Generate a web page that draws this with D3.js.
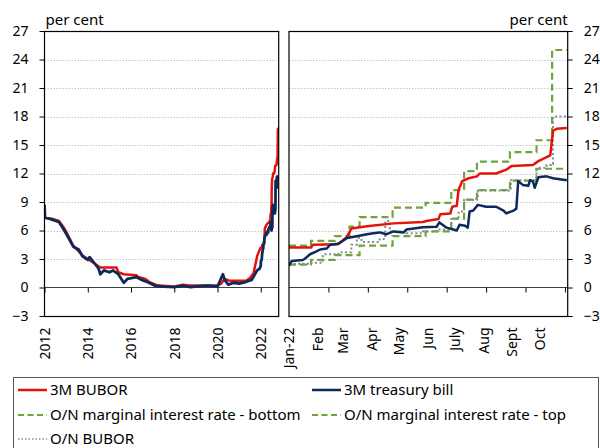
<!DOCTYPE html>
<html>
<head>
<meta charset="utf-8">
<script src="https://cdn.jsdelivr.net/npm/d3@7"></script>
<style>
  body { margin: 0; background: #fff; }
  svg { font-family: "Noto Sans", sans-serif; display: block; }
</style>
</head>
<body>
<script>
// Chart values

const parse = d3.timeParse("%Y-%m-%d");

// Long history (left panel), 2012-2021, the 2022 part comes from the daily series below
const bubor3mHist = [
  ["2012-01-01", 7.4], ["2012-02-01", 7.3], ["2012-06-01", 7.2], ["2012-09-01", 7.0],
  ["2012-11-01", 6.5], ["2013-01-01", 5.9], ["2013-05-01", 4.4], ["2013-10-01", 3.4],
  ["2014-01-01", 3.0], ["2014-05-01", 2.5], ["2014-08-01", 2.1], ["2015-05-01", 2.1],
  ["2015-06-01", 1.6], ["2015-09-01", 1.4], ["2016-04-01", 1.3], ["2016-05-01", 1.1],
  ["2016-09-01", 0.9], ["2016-11-01", 0.6], ["2017-04-01", 0.2], ["2018-01-01", 0.1],
  ["2018-06-01", 0.3], ["2018-09-01", 0.2], ["2019-06-01", 0.2], ["2020-01-01", 0.2],
  ["2020-03-01", 0.4], ["2020-05-01", 0.9], ["2020-08-01", 0.7], ["2021-05-01", 0.7],
  ["2021-07-01", 1.0], ["2021-09-01", 1.5], ["2021-11-01", 3.3], ["2021-12-15", 4.0]
];

const tbill3mHist = [
  ["2012-01-01", 8.7], ["2012-01-10", 7.4], ["2012-06-01", 7.1], ["2012-09-01", 6.9],
  ["2012-12-01", 6.0], ["2013-03-01", 5.0], ["2013-05-01", 4.3], ["2013-08-01", 4.0],
  ["2013-10-01", 3.3], ["2014-01-01", 2.9], ["2014-02-01", 3.2], ["2014-05-01", 2.5],
  ["2014-07-01", 2.0], ["2014-08-01", 1.4], ["2014-10-01", 1.8], ["2015-01-01", 1.6],
  ["2015-03-01", 1.8], ["2015-06-01", 1.4], ["2015-09-01", 0.5], ["2015-11-01", 0.9],
  ["2016-04-01", 1.1], ["2016-07-01", 0.8], ["2016-11-01", 0.5], ["2017-02-01", 0.2],
  ["2017-07-01", 0.1], ["2018-01-01", 0.05], ["2018-06-01", 0.2], ["2018-10-01", 0.05],
  ["2019-03-01", 0.15], ["2019-08-01", 0.2], ["2020-01-01", 0.1], ["2020-04-01", 1.4],
  ["2020-05-01", 0.8], ["2020-07-01", 0.3], ["2020-10-01", 0.5], ["2021-01-01", 0.4],
  ["2021-05-01", 0.6], ["2021-08-01", 0.8], ["2021-11-01", 1.8], ["2021-12-15", 2.0]
];

// 2022 daily detail (right panel)
const bubor3m2022 = [
  ["2022-01-01", 4.2], ["2022-01-25", 4.2], ["2022-01-27", 4.5], ["2022-02-22", 4.55],
  ["2022-02-24", 4.6], ["2022-03-05", 5.3], ["2022-03-10", 6.2], ["2022-03-27", 6.45],
  ["2022-04-25", 6.75], ["2022-05-27", 6.9], ["2022-05-31", 7.0], ["2022-06-13", 7.2],
  ["2022-06-15", 7.7], ["2022-06-26", 7.8], ["2022-06-28", 8.5], ["2022-07-03", 8.6],
  ["2022-07-05", 10.3], ["2022-07-09", 11.2], ["2022-07-16", 11.5], ["2022-07-25", 11.7],
  ["2022-07-28", 12.0], ["2022-08-15", 12.0], ["2022-08-26", 12.4], ["2022-09-01", 12.8],
  ["2022-09-24", 12.9], ["2022-09-30", 13.3], ["2022-10-13", 13.9], ["2022-10-16", 16.5],
  ["2022-10-20", 16.7], ["2022-10-31", 16.8]
];

const tbill3m2022 = [
  ["2022-01-01", 2.3], ["2022-01-04", 2.8], ["2022-01-16", 2.9], ["2022-01-18", 3.0],
  ["2022-01-24", 3.5], ["2022-01-31", 3.8], ["2022-02-04", 4.0], ["2022-02-11", 4.1],
  ["2022-02-15", 4.5], ["2022-02-24", 4.6], ["2022-03-05", 5.2], ["2022-03-16", 5.4],
  ["2022-03-27", 5.6], ["2022-04-03", 5.7], ["2022-04-10", 5.8], ["2022-04-17", 5.6],
  ["2022-04-25", 5.9], ["2022-05-06", 5.8], ["2022-05-09", 6.1], ["2022-05-27", 6.35],
  ["2022-06-11", 6.4], ["2022-06-14", 6.85], ["2022-06-22", 6.3], ["2022-07-03", 6.0],
  ["2022-07-06", 6.6], ["2022-07-12", 6.5], ["2022-07-15", 6.3], ["2022-07-17", 8.0],
  ["2022-07-21", 8.1], ["2022-07-26", 8.7], ["2022-08-04", 8.5], ["2022-08-15", 8.5],
  ["2022-08-23", 8.1], ["2022-08-26", 7.8], ["2022-09-03", 8.1], ["2022-09-06", 8.3],
  ["2022-09-08", 11.2], ["2022-09-13", 10.8], ["2022-09-19", 10.7], ["2022-09-21", 11.3],
  ["2022-09-24", 11.2], ["2022-09-26", 10.5], ["2022-09-30", 11.6], ["2022-10-09", 11.7],
  ["2022-10-16", 11.5], ["2022-10-31", 11.3]
];

const onBubor2022 = [
  ["2022-01-01", 2.5], ["2022-01-24", 2.6], ["2022-02-07", 3.5], ["2022-02-24", 3.7],
  ["2022-03-10", 4.5], ["2022-03-16", 5.2], ["2022-03-21", 4.8], ["2022-04-10", 5.1],
  ["2022-04-16", 7.0], ["2022-04-21", 5.9], ["2022-05-09", 5.7], ["2022-05-27", 5.9],
  ["2022-06-11", 6.1], ["2022-06-24", 6.2], ["2022-06-27", 7.2], ["2022-07-05", 8.0],
  ["2022-07-11", 9.2], ["2022-07-24", 9.3], ["2022-07-26", 10.2], ["2022-08-29", 10.3],
  ["2022-08-31", 11.3], ["2022-09-26", 11.3], ["2022-09-28", 12.6], ["2022-10-09", 12.9],
  ["2022-10-14", 13.0], ["2022-10-16", 18.0], ["2022-10-31", 18.0]
];

const corridorBottom2022 = [
  ["2022-01-01", 2.4], ["2022-01-25", 2.9], ["2022-02-20", 3.4], ["2022-03-19", 4.4],
  ["2022-04-24", 5.4], ["2022-05-30", 5.9], ["2022-06-27", 7.25], ["2022-07-11", 9.25],
  ["2022-07-25", 10.25], ["2022-08-30", 11.25], ["2022-09-28", 12.5], ["2022-11-01", 12.5]
];

const corridorTop2022 = [
  ["2022-01-01", 4.4], ["2022-01-25", 4.9], ["2022-02-20", 5.4], ["2022-03-08", 6.4],
  ["2022-03-19", 7.4], ["2022-04-24", 8.4], ["2022-05-30", 8.9], ["2022-06-27", 10.25],
  ["2022-07-11", 12.25], ["2022-07-25", 13.25], ["2022-08-30", 14.25], ["2022-09-28", 15.5],
  ["2022-10-15", 25], ["2022-11-01", 25]
];

const yTicks = [-3, 0, 3, 6, 9, 12, 15, 18, 21, 24, 27];
const gridTicks = [3, 6, 9, 12, 15, 18, 21, 24];
const yearTicks = ["2012", "2014", "2016", "2018", "2020", "2022"];
const monthLabels = ["Jan-22", "Feb", "Mar", "Apr", "May", "Jun", "July", "Aug", "Sept", "Oct"];

const toPts = arr => arr.map(d => ({ date: parse(d[0]), value: d[1] }));

// Layout
const W = 600, H = 448;
const plotTop = 31, plotBottom = 316;
const left = { x0: 44.5, x1: 278.7 };
const right = { x0: 289, x1: 567.7 };

const svg = d3.select("body").append("svg")
  .attr("width", W)
  .attr("height", H);

const y = d3.scaleLinear().domain([-3, 27]).range([plotBottom, plotTop]);

const xLeft = d3.scaleTime()
  .domain([parse("2012-01-01"), parse("2022-10-31")])
  .range([left.x0, left.x1]);

const xRight = d3.scaleTime()
  .domain([parse("2022-01-01"), parse("2022-11-01")])
  .range([right.x0, right.x1]);

// clip paths
const defs = svg.append("defs");
[["clipL", left], ["clipR", right]].forEach(([id, p]) => {
  defs.append("clipPath").attr("id", id)
    .append("rect")
    .attr("x", p.x0).attr("y", plotTop)
    .attr("width", p.x1 - p.x0).attr("height", plotBottom - plotTop);
});

// grid lines
[left, right].forEach(p => {
  svg.append("g").selectAll("line")
    .data(gridTicks)
    .join("line")
    .attr("x1", p.x0).attr("x2", p.x1)
    .attr("y1", d => Math.round(y(d)) + 0.5).attr("y2", d => Math.round(y(d)) + 0.5)
    .attr("stroke", "#c8c8c8")
    .attr("stroke-width", 1)
    .attr("stroke-dasharray", "1.5,1.5");
});

// y axes
const yAxisL = svg.append("g")
  .attr("transform", `translate(${left.x0},0)`)
  .call(d3.axisLeft(y).tickValues(yTicks).tickSize(5).tickPadding(11));
const yAxisR = svg.append("g")
  .attr("transform", `translate(${right.x1},0)`)
  .call(d3.axisRight(y).tickValues(yTicks).tickSize(5).tickPadding(11));
[yAxisL, yAxisR].forEach(g => {
  g.select(".domain").remove();
  g.selectAll("line").attr("stroke", "#000");
  g.selectAll("text").attr("font-size", 14).attr("fill", "#000")
    .attr("font-family", "Noto Sans");
});

// zero lines
[left, right].forEach(p => {
  svg.append("line")
    .attr("x1", p.x0).attr("x2", p.x1)
    .attr("y1", y(0)).attr("y2", y(0))
    .attr("stroke", "#404040")
    .attr("stroke-width", 1);
});

// x axis, left panel (years)
const xAxisL = svg.append("g")
  .attr("transform", `translate(0,${y(0)})`)
  .call(d3.axisBottom(xLeft)
    .tickValues(yearTicks.map(t => parse(t + "-01-01")))
    .tickSize(5)
    .tickFormat(d3.timeFormat("%Y")));

// x axis, right panel: ticks and month labels are not aligned in the original
const xTicksR = svg.append("g")
  .attr("transform", `translate(0,${y(0)})`)
  .call(d3.axisBottom(xRight)
    .tickValues(d3.range(1, 8).map(k => d3.timeDay.offset(parse("2022-01-01"), 43 * k)))
    .tickSize(5)
    .tickFormat(""));

const xLabelsR = svg.append("g")
  .attr("transform", `translate(0,${y(0)})`)
  .call(d3.axisBottom(xRight)
    .tickValues(monthLabels.map((m, i) => new Date(2022, i, 1)))
    .tickSize(0)
    .tickFormat((d, i) => monthLabels[i]));
xLabelsR.selectAll("line").remove();

[xAxisL, xTicksR, xLabelsR].forEach(g => {
  g.select(".domain").remove();
  g.selectAll("line").attr("stroke", "#000");
  g.selectAll("text")
    .attr("font-size", 14)
    .attr("font-family", "Noto Sans")
    .attr("fill", "#000")
    .attr("text-anchor", "end")
    .attr("x", -40)
    .attr("y", 0)
    .attr("dy", "0.35em")
    .attr("transform", "rotate(-90)");
});

// lines
const lineL = d3.line().x(d => xLeft(d.date)).y(d => y(d.value));
const lineR = d3.line().x(d => xRight(d.date)).y(d => y(d.value));
const stepR = d3.line().x(d => xRight(d.date)).y(d => y(d.value)).curve(d3.curveStepAfter);

const red = "#e3120b", navy = "#0e2a5c", green = "#6fa43a", grey = "#8a8a8a";

const gL = svg.append("g").attr("clip-path", "url(#clipL)");
gL.append("path")
  .datum(toPts(bubor3mHist.concat(bubor3m2022)))
  .attr("d", lineL).attr("fill", "none")
  .attr("stroke", red).attr("stroke-width", 2.5).attr("stroke-linejoin", "round");
gL.append("path")
  .datum(toPts(tbill3mHist.concat(tbill3m2022)))
  .attr("d", lineL).attr("fill", "none")
  .attr("stroke", navy).attr("stroke-width", 2.8).attr("stroke-linejoin", "round");

const gR = svg.append("g").attr("clip-path", "url(#clipR)");
gR.append("path")
  .datum(toPts(corridorBottom2022))
  .attr("d", stepR).attr("fill", "none")
  .attr("stroke", green).attr("stroke-width", 2.2).attr("stroke-dasharray", "7,4");
gR.append("path")
  .datum(toPts(corridorTop2022))
  .attr("d", stepR).attr("fill", "none")
  .attr("stroke", green).attr("stroke-width", 2.2).attr("stroke-dasharray", "7,4");
gR.append("path")
  .datum(toPts(onBubor2022))
  .attr("d", stepR).attr("fill", "none")
  .attr("stroke", grey).attr("stroke-width", 2).attr("stroke-dasharray", "2,2.5");
gR.append("path")
  .datum(toPts(bubor3m2022))
  .attr("d", lineR).attr("fill", "none")
  .attr("stroke", red).attr("stroke-width", 2.5).attr("stroke-linejoin", "round");
gR.append("path")
  .datum(toPts(tbill3m2022))
  .attr("d", lineR).attr("fill", "none")
  .attr("stroke", navy).attr("stroke-width", 2.5).attr("stroke-linejoin", "round");

// panel frames
[left, right].forEach(p => {
  svg.append("rect")
    .attr("x", p.x0).attr("y", plotTop + 0.5)
    .attr("width", p.x1 - p.x0).attr("height", plotBottom - plotTop)
    .attr("fill", "none")
    .attr("stroke", "#000")
    .attr("stroke-width", 1.2);
});

// unit labels
svg.append("text")
  .attr("x", left.x0 + 1).attr("y", 25)
  .attr("font-size", 15).text("per cent");
svg.append("text")
  .attr("x", right.x1).attr("y", 25)
  .attr("text-anchor", "end")
  .attr("font-size", 15).text("per cent");

// legend
const legendItems = [
  { name: "3M BUBOR", color: red, dash: null, w: 2.5, col: 0, row: 0 },
  { name: "3M treasury bill", color: navy, dash: null, w: 2.5, col: 1, row: 0 },
  { name: "O/N marginal interest rate - bottom", color: green, dash: "6,3.5", w: 2.2, col: 0, row: 1 },
  { name: "O/N marginal interest rate - top", color: green, dash: "6,3.5", w: 2.2, col: 1, row: 1 },
  { name: "O/N BUBOR", color: grey, dash: "1.5,2", w: 1.6, col: 0, row: 2 }
];

svg.append("rect")
  .attr("x", 13.5).attr("y", 377.5)
  .attr("width", 585).attr("height", 90)
  .attr("fill", "none")
  .attr("stroke", "#555")
  .attr("stroke-width", 1);

const colX = [18, 312];
const rowY = [390, 415, 439];

const lg = svg.append("g").selectAll("g")
  .data(legendItems)
  .join("g")
  .attr("transform", d => `translate(${colX[d.col]},${rowY[d.row]})`);
lg.append("line")
  .attr("x1", 0).attr("x2", 29)
  .attr("stroke", d => d.color)
  .attr("stroke-width", d => d.w)
  .attr("stroke-dasharray", d => d.dash);
lg.append("text")
  .attr("x", 32).attr("dy", "0.35em")
  .attr("font-size", 15)
  .text(d => d.name);
</script>
</body>
</html>
